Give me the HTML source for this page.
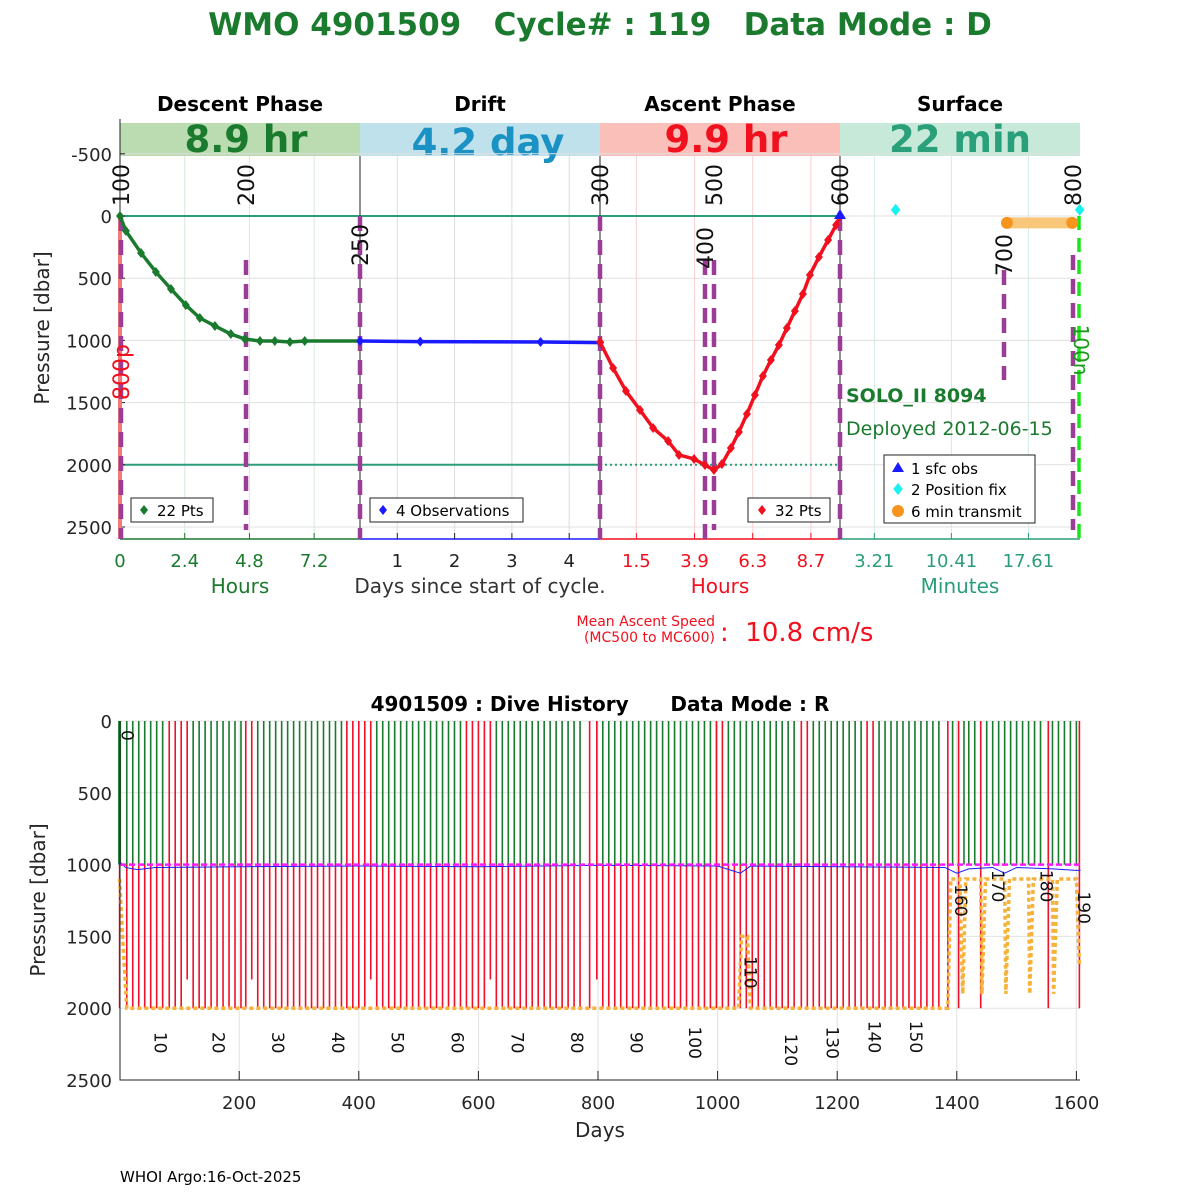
<!DOCTYPE html>
<html><head><meta charset="utf-8"><style>
html,body{margin:0;padding:0;background:#fff;}
svg{display:block;font-family:"DejaVu Sans","Liberation Sans",sans-serif;}
</style></head><body>
<svg id="s" width="1200" height="1200" viewBox="0 0 1200 1200" xmlns="http://www.w3.org/2000/svg">
<rect width="1200" height="1200" fill="#fff"/>
<text x="600" y="35" text-anchor="middle" font-size="31" font-weight="bold" fill="#1a7a2e" xml:space="preserve">WMO 4901509   Cycle# : 119   Data Mode : D</text>
<g font-size="20" font-weight="bold" text-anchor="middle">
<text x="240" y="111">Descent Phase</text><text x="480" y="111">Drift</text><text x="720" y="111">Ascent Phase</text><text x="960" y="111">Surface</text></g>
<rect x="120" y="123" width="240" height="33" fill="#bbdbb0"/>
<rect x="360" y="123" width="240" height="33" fill="#bfe1ec"/>
<rect x="600" y="123" width="240" height="33" fill="#fbbfba"/>
<rect x="840" y="123" width="240" height="33" fill="#c7e9d9"/>
<g font-size="37" font-weight="bold" text-anchor="middle">
<text x="246" y="152" fill="#1a7a2e">8.9 hr</text><text x="488" y="155" fill="#1a92c4">4.2 day</text><text x="726" y="152" fill="#f0101e">9.9 hr</text><text x="960" y="152" fill="#2aa07a">22 min</text></g>
<g id="topg"></g>
<g id="botg"></g>
<text x="120" y="1182" font-size="15">WHOI Argo:16-Oct-2025</text>
</svg>
<script>
// ---------- top chart data ----------
const descentHours=[0,0.22,0.78,1.33,1.89,2.44,2.96,3.52,4.11,4.63,5.19,5.74,6.3,6.85];
const descentPres=[0,120,297,450,587,716,820,884,949,989,1005,1005,1013,1005];
const driftDays=[0.35,1.4,3.5,4.54];
const driftPres=[1005,1010,1013,1018];
const ascentHours=[0,0.54,1.07,1.65,2.19,2.81,3.26,3.88,4.33,4.70,5.03,5.40,5.73,6.06,6.39,6.72,7.05,7.38,7.71,8.04,8.37,8.66,9.03,9.41,9.74,9.9];
const ascentPres=[1013,1222,1407,1559,1704,1809,1921,1953,2002,2042,1994,1865,1736,1592,1439,1286,1158,1037,900,764,627,474,330,193,72,0];
const fixMinutes=[5.2,22.4];
const fixPres=[-50,-50];
const transmitMinutes=[15.6,21.7];
const transmitPres=[55,55];
const pTicks=[-500,0,500,1000,1500,2000,2500];
const descTicks=[0,2.4,4.8,7.2];
const driftTicks=[1,2,3,4];
const ascTicks=[1.5,3.9,6.3,8.7];
const surfTicks=[3.21,10.41,17.61];
// ---------- bottom chart data ----------
const lineDays=[0,12,22,32,42,52,62,72,83,93,103,113,123,133,143,153,163,173,183,193,203,211,221,231,241,251,261,271,281,291,301,311,321,331,341,351,361,371,380,390,400,410,420,430,440,450,460,470,480,490,500,510,520,530,540,550,560,570,580,590,600,610,620,630,640,650,660,670,680,690,700,710,720,730,740,750,760,770,786,798,808,818,828,838,848,858,868,878,888,898,908,918,928,938,948,958,968,978,988,998,1008,1018,1028,1038,1048,1058,1068,1078,1088,1098,1108,1118,1128,1140,1150,1160,1170,1180,1190,1200,1210,1220,1230,1240,1250,1260,1270,1280,1290,1300,1310,1320,1330,1340,1350,1360,1370,1385,1393,1403,1412,1420,1430,1440,1450,1460,1470,1480,1490,1500,1510,1520,1530,1540,1553,1560,1570,1580,1590,1600,1605];
const redTopDays=[83,93,103,113,211,221,380,390,400,410,420,580,590,600,610,620,786,798,998,1008,1140,1150,1250,1260,1385,1403,1440,1553,1605];
const shortAscentDays=[113,221,420,620,798];
const bluePathDays=[0,10,30,60,200,400,600,800,1000,1038,1045,1055,1380,1400,1420,1460,1480,1500,1560,1600,1607];
const bluePathPres=[980,1020,1035,1020,1015,1010,1015,1005,1010,1060,1040,1010,1020,1060,1030,1020,1060,1020,1030,1040,1040];
const parkDays=[0,5,12,1035,1040,1050,1055,1385,1390,1405,1410,1415,1440,1442,1448,1480,1482,1488,1520,1522,1528,1560,1562,1568,1600,1605];
const parkPres=[1100,1500,2000,2000,1500,1500,2000,2000,1100,1100,1900,1100,1100,1900,1100,1100,1900,1100,1100,1900,1100,1100,1900,1100,1100,1700];
const cycleLabels=["0","10","20","30","40","50","60","70","80","90","100","110","120","130","140","150","160","170","180","190"];
const cycleLabelDays=[3,58,155,255,355,455,555,655,755,854,952,1045,1113,1182,1252,1322,1397,1459,1540,1603];
const cycleLabelPres=[100,2240,2240,2240,2240,2240,2240,2240,2240,2240,2240,1750,2290,2240,2200,2200,1250,1150,1150,1300];
const dayTicks=[200,400,600,800,1000,1200,1400,1600];
const bpTicks=[0,500,1000,1500,2000,2500];

const NS="http://www.w3.org/2000/svg";
function mk(parent,tag,attrs){const el=document.createElementNS(NS,tag);for(const k in attrs)el.setAttribute(k,attrs[k]);parent.appendChild(el);return el;}
function txt(parent,x,y,s,attrs){const el=mk(parent,'text',Object.assign({x:x,y:y},attrs||{}));el.textContent=s;return el;}
const py=p=>216+p*0.1244;
const dx=h=>120+h*240/8.9;
const drx=d=>340+d*57.3;
const ax=h=>600+h*24.24;
const sx=m=>840+m*10.7;
const tg=document.getElementById('topg');
const T0=119,T1=539;
pTicks.forEach(p=>{const l=mk(tg,'line',{x1:120,x2:1080,y1:py(p),y2:py(p),stroke:'#e0e0e0','stroke-width':1});
});
function vgrid(xs,col){xs.forEach(x=>{const l=mk(tg,'line',{x1:x,x2:x,y1:156,y2:T1,stroke:col,'stroke-width':1});
});}
vgrid(descTicks.map(dx),'#d8e8d8');vgrid(driftTicks.map(drx),'#dddddd');vgrid(ascTicks.map(ax),'#f8d0d0');vgrid(surfTicks.map(sx),'#d4ebe2');
let e;
e=mk(tg,'line',{x1:120,x2:840,y1:py(0),y2:py(0),stroke:'#2a9d7a','stroke-width':2});

e=mk(tg,'line',{x1:120,x2:600,y1:py(2000),y2:py(2000),stroke:'#2a9d7a','stroke-width':2});

e=mk(tg,'line',{x1:600,x2:840,y1:py(2000),y2:py(2000),stroke:'#2a9d7a','stroke-width':2,'stroke-dasharray':'2,3'});

[360,600,840].forEach(x=>{const l=mk(tg,'line',{x1:x,x2:x,y1:156,y2:T1,stroke:'#222','stroke-width':1});
});
e=mk(tg,'line',{x1:120,x2:120,y1:T0,y2:T1,stroke:'#222'});
[['#1a7a2e',120,360],['#1a1aff',360,600],['#f0101e',600,840],['#2a9d7a',840,1080]].forEach(a=>{const l=mk(tg,'line',{x1:a[1],x2:a[2],y1:T1,y2:T1,stroke:a[0],'stroke-width':1.5});
});
pTicks.forEach(p=>{const t=txt(tg,112,py(p)+7,String(p),{'text-anchor':'end','font-size':18,fill:'#262626'});

mk(tg,'line',{x1:120,x2:125,y1:py(p),y2:py(p),stroke:'#222'});});
function xt(vals,f,col){vals.forEach(v=>{const t=txt(tg,f(v),567,String(v),{'text-anchor':'middle','font-size':18,fill:col});

mk(tg,'line',{x1:f(v),x2:f(v),y1:T1,y2:T1-6,stroke:col});});}
xt(descTicks,dx,'#1a7a2e');xt(driftTicks,drx,'#222');xt(ascTicks,ax,'#f0101e');xt(surfTicks,sx,'#2a9d7a');
[['Hours',240,'#1a7a2e'],['Days since start of cycle.',480,'#333'],['Hours',720,'#f0101e'],['Minutes',960,'#2a9d7a']].forEach(a=>{
const t=txt(tg,a[1],593,a[0],{'text-anchor':'middle','font-size':20,fill:a[2]});});
e=txt(tg,0,0,'Pressure [dbar]',{'text-anchor':'middle','font-size':20,fill:'#262626',transform:'translate(49,328) rotate(-90)'});

e=mk(tg,'line',{x1:120,x2:120,y1:py(0),y2:T1,stroke:'#f47a7a','stroke-width':4});
[[121,py(0),T1],[246,260,530],[360,py(0),T1],[600,py(0),T1],[705,260,539],[714,260,530],[840,py(0),T1],[1004,270,380],[1073,255,530]].forEach(m=>{
const l=mk(tg,'line',{x1:m[0],x2:m[0],y1:m[1],y2:m[2],stroke:'#9b3d96','stroke-width':4.5,'stroke-dasharray':'15,9'});
});
e=mk(tg,'line',{x1:1079,x2:1079,y1:py(0),y2:T1,stroke:'#19e619','stroke-width':3.5,'stroke-dasharray':'14,8'});
[['100',129,185],['200',254,185],['250',368,245],['300',608,185],['500',722,185],['400',713,248],['600',848,185],['700',1012,255],['800',1081,185]].forEach(a=>{
const t=txt(tg,0,0,a[0],{'text-anchor':'middle','font-size':22,fill:'#111',transform:`translate(${a[1]},${a[2]}) rotate(-90)`});
});
e=txt(tg,0,0,'800p',{'text-anchor':'middle','font-size':22,fill:'#f0101e',transform:'translate(129,372) rotate(-90)'});
e=txt(tg,0,0,'100n',{'text-anchor':'middle','font-size':20,fill:'#1a9a1a',transform:'translate(1074,350) rotate(90)'});
function diamond(g,x,y,r,col){return mk(g,'polygon',{points:`${x},${y-r} ${x+r*0.8},${y} ${x},${y+r} ${x-r*0.8},${y}`,fill:col});}
function series(xs,ys,col,w,name){const pts=xs.map((v,i)=>v+','+ys[i]).join(' ');
const l=mk(tg,'polyline',{points:pts,fill:'none',stroke:col,'stroke-width':w,'stroke-linejoin':'round'});
}
const dX=descentHours.map(dx).concat([360]),dY=descentPres.map(py).concat([py(1005)]);
series(dX,dY,'#1a7a2e',3.5,'descent-profile-line');
descentHours.forEach((h,i)=>{const d=diamond(tg,dx(h),py(descentPres[i]),5,'#1a7a2e');});
series(driftDays.map(drx),driftPres.map(py),'#1a1aff',3.5,'drift-line');
driftDays.forEach((d,i)=>{const m=diamond(tg,drx(d),py(driftPres[i]),5,'#1a1aff');});
series(ascentHours.map(ax),ascentPres.map(py),'#f0101e',3.5,'ascent-profile-line');
ascentHours.forEach((h,i)=>{const m=diamond(tg,ax(h),py(ascentPres[i]),5,'#f0101e');});
e=mk(tg,'line',{x1:sx(transmitMinutes[0]),x2:sx(transmitMinutes[1]),y1:py(transmitPres[0]),y2:py(transmitPres[1]),stroke:'#f9c77a','stroke-width':11});

transmitMinutes.forEach((m,i)=>{const c=mk(tg,'circle',{cx:sx(m),cy:py(transmitPres[i]),r:6,fill:'#f7941d'});});
fixMinutes.forEach((m,i)=>{const c=diamond(tg,sx(m),py(fixPres[i]),6,'#19f0f0');});
e=mk(tg,'polygon',{points:'840,209 846,219 834,219',fill:'#1a1aff'});
function legbox(x,y,w,h){const r=mk(tg,'rect',{x:x,y:y,width:w,height:h,fill:'#fff',stroke:'#222','stroke-width':1});}
legbox(131,498,82,24);diamond(tg,144,510,5,'#1a7a2e');e=txt(tg,157,516,'22 Pts',{'font-size':15});
legbox(370,498,153,24);diamond(tg,383,510,5,'#1a1aff');e=txt(tg,396,516,'4 Observations',{'font-size':15});
legbox(748,498,82,24);diamond(tg,762,510,5,'#f0101e');e=txt(tg,775,516,'32 Pts',{'font-size':15});
legbox(884,455,151,68);
mk(tg,'polygon',{points:'898,462 904,472 892,472',fill:'#1a1aff'});e=txt(tg,911,474,'1 sfc obs',{'font-size':15});
diamond(tg,898,489,6,'#19f0f0');e=txt(tg,911,495,'2 Position fix',{'font-size':15});
mk(tg,'circle',{cx:898,cy:511,r:6,fill:'#f7941d'});e=txt(tg,911,517,'6 min transmit',{'font-size':15});
e=txt(tg,846,402,'SOLO_II 8094',{'font-size':19,'font-weight':'bold',fill:'#1a7a2e'});
e=txt(tg,846,435,'Deployed 2012-06-15',{'font-size':19,fill:'#1a7a2e'});
e=txt(tg,715,626,'Mean Ascent Speed',{'font-size':14,fill:'#f0101e','text-anchor':'end'});
e=txt(tg,715,642,'(MC500 to MC600)',{'font-size':14,fill:'#f0101e','text-anchor':'end'});
e=txt(tg,720,641,':\u00a0\u00a010.8 cm/s',{'font-size':26,fill:'#f0101e'});

// ---------- bottom chart ----------
const bg=document.getElementById('botg');
const bx=d=>119.6+d*0.598;
const by=p=>721+p*0.1436;
const B0=721,B1=1080;
bpTicks.forEach(p=>{const l=mk(bg,'line',{x1:120,x2:1080,y1:by(p),y2:by(p),stroke:'#e2e2e2'});});
dayTicks.forEach(d=>{const l=mk(bg,'line',{x1:bx(d),x2:bx(d),y1:B0,y2:B1,stroke:'#e2e2e2'});});
const redSet=new Set(redTopDays);
const shortSet=new Set(shortAscentDays);
lineDays.forEach((d,i)=>{
  const x=bx(d);const red=redSet.has(d);
  const up=mk(bg,'line',{x1:x,x2:x,y1:B0,y2:by(1000),stroke:red?'#f0102a':'#1a7a2e','stroke-width':(i===0?3:1.6)});
  
  
  if(d<1385||red){
    const lo=mk(bg,'line',{x1:x,x2:x,y1:by(1000),y2:by(shortSet.has(d)?1800:2000),stroke:'#f0102a','stroke-width':1.6});
    
    
  }
});
e=mk(bg,'polyline',{points:parkDays.map((d,i)=>bx(d)+','+by(parkPres[i])).join(' '),fill:'none',stroke:'#f7b23b','stroke-width':3.5,'stroke-dasharray':'4,3'});

e=mk(bg,'polyline',{points:bluePathDays.map((d,i)=>bx(d)+','+by(bluePathPres[i])).join(' '),fill:'none',stroke:'#1a1aff','stroke-width':1});

e=mk(bg,'line',{x1:120,x2:1080,y1:by(1000),y2:by(1000),stroke:'#ff19ff','stroke-width':2.5,'stroke-dasharray':'6,3'});

cycleLabels.forEach((s,i)=>{const x=bx(cycleLabelDays[i]),y=by(cycleLabelPres[i]);
const t=txt(bg,0,0,s,{'text-anchor':'middle','font-size':17,fill:'#111',transform:`translate(${x},${y}) rotate(90)`});
});
e=mk(bg,'path',{d:`M120,${B0} V${B1} H1080`,fill:'none',stroke:'#222'});
bpTicks.forEach(p=>{const t=txt(bg,112,by(p)+7,String(p),{'text-anchor':'end','font-size':18,fill:'#262626'});});
dayTicks.forEach(d=>{const t=txt(bg,bx(d),1109,String(d),{'text-anchor':'middle','font-size':18,fill:'#262626'});
mk(bg,'line',{x1:bx(d),x2:bx(d),y1:B1,y2:B1-9,stroke:'#222'});});
e=txt(bg,600,1137,'Days',{'text-anchor':'middle','font-size':20,fill:'#262626'});
e=txt(bg,0,0,'Pressure [dbar]',{'text-anchor':'middle','font-size':20,fill:'#262626',transform:'translate(45,900) rotate(-90)'});
e=txt(bg,600,711,'4901509 : Dive History\u00a0\u00a0\u00a0\u00a0\u00a0\u00a0Data Mode : R',{'text-anchor':'middle','font-size':20,'font-weight':'bold'});

</script>
</body></html>
